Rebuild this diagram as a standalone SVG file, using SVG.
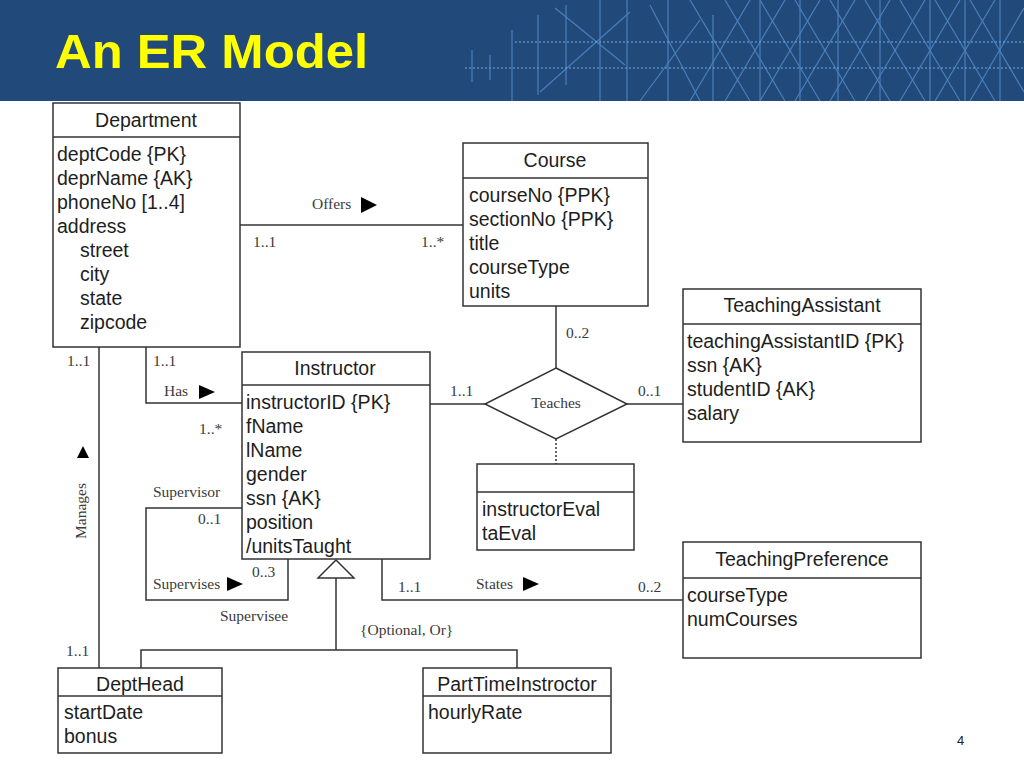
<svg xmlns="http://www.w3.org/2000/svg" width="1024" height="768" viewBox="0 0 1024 768">
<style>
.box{fill:#fff;stroke:#333;stroke-width:1.5}
.div{stroke:#333;stroke-width:1.5}
.t{font-family:"Liberation Sans",Arial,sans-serif;font-size:19.5px;fill:#1e1e1e}
.c{text-anchor:middle}
.l{font-family:"Liberation Serif","Times New Roman",serif;font-size:15.5px;fill:#3a3a3a}
.ln{stroke:#333;stroke-width:1.5;fill:none}
.hp{stroke:#5a98da;stroke-width:1.2;fill:none;opacity:0.7}
.hd{stroke:#6aa6e6;stroke-width:1.5;fill:none;opacity:0.7;stroke-dasharray:2 2}
.arr{fill:#000}
</style>
<rect x="0" y="0" width="1024" height="768" fill="#fff"/>
<g id="header">
<rect x="0" y="0" width="1024" height="101" fill="#21497a"/>
<g class="hp">
<line x1="472" y1="50" x2="472" y2="82"/>
<line x1="490" y1="55" x2="490" y2="80"/>
<line x1="512" y1="30" x2="512" y2="101"/>
<line x1="538" y1="15" x2="538" y2="95"/>
<line x1="566" y1="5" x2="566" y2="85"/>
<line x1="600" y1="0" x2="600" y2="101"/>
<line x1="627" y1="0" x2="627" y2="101"/>
<line x1="668" y1="0" x2="668" y2="101"/>
<line x1="713" y1="15" x2="713" y2="101"/>
<line x1="760" y1="0" x2="760" y2="101"/>
<line x1="800" y1="0" x2="800" y2="101"/>
<line x1="838" y1="0" x2="838" y2="101"/>
<line x1="880" y1="0" x2="880" y2="101"/>
<line x1="930" y1="0" x2="930" y2="101"/>
<line x1="965" y1="0" x2="965" y2="101"/>
<line x1="1000" y1="0" x2="1000" y2="101"/>
<line x1="555" y1="8" x2="625" y2="65"/>
<line x1="540" y1="92" x2="630" y2="12"/>
<line x1="650" y1="5" x2="700" y2="101"/>
<line x1="640" y1="101" x2="700" y2="20"/>
<line x1="690" y1="0" x2="750" y2="101"/>
<line x1="750" y1="0" x2="690" y2="101"/>
<line x1="725" y1="0" x2="785" y2="101"/>
<line x1="785" y1="0" x2="725" y2="101"/>
<line x1="760" y1="0" x2="820" y2="101"/>
<line x1="820" y1="0" x2="760" y2="101"/>
<line x1="795" y1="0" x2="855" y2="101"/>
<line x1="855" y1="0" x2="795" y2="101"/>
<line x1="830" y1="0" x2="890" y2="101"/>
<line x1="890" y1="0" x2="830" y2="101"/>
<line x1="865" y1="0" x2="925" y2="101"/>
<line x1="925" y1="0" x2="865" y2="101"/>
<line x1="900" y1="0" x2="960" y2="101"/>
<line x1="960" y1="0" x2="900" y2="101"/>
<line x1="935" y1="0" x2="995" y2="101"/>
<line x1="995" y1="0" x2="935" y2="101"/>
<line x1="970" y1="0" x2="1024" y2="92"/>
<line x1="1024" y1="8" x2="970" y2="101"/>
</g>
<line class="hd" x1="515" y1="42" x2="1024" y2="42"/>
<line class="hd" x1="465" y1="68" x2="1024" y2="68"/>
<text x="55" y="68" font-family="'Liberation Sans',Arial,sans-serif" font-size="49" font-weight="bold" fill="#ffff00" textLength="313" lengthAdjust="spacingAndGlyphs">An ER Model</text>
</g>
<g id="connectors">
<line class="ln" x1="240" y1="225" x2="463" y2="225"/>
<polyline class="ln" points="146,347 146,403 242,403"/>
<line class="ln" x1="99" y1="347" x2="99" y2="668"/>
<line class="ln" x1="556" y1="306" x2="556" y2="368"/>
<line class="ln" x1="430" y1="404" x2="485" y2="404"/>
<line class="ln" x1="627" y1="404" x2="683" y2="404"/>
<line class="ln" x1="556" y1="439" x2="556" y2="464" stroke-dasharray="2 2"/>
<polyline class="ln" points="242,508 146,508 146,600 288,600 288,559"/>
<polyline class="ln" points="382,559 382,600 683,600"/>
<line class="ln" x1="336" y1="578" x2="336" y2="650"/>
<polyline class="ln" points="141,668 141,650 517,650 517,668"/>
<polygon points="336,560 318,578 354,578" fill="#fff" stroke="#333" stroke-width="1.5"/>
<text class="l" x="312" y="209">Offers</text>
<polygon class="arr" points="361,197 377,205 361,213"/>
<text class="l" x="253" y="247">1..1</text>
<text class="l" x="421" y="247">1..*</text>
<text class="l" x="566" y="338">0..2</text>
<text class="l" x="450" y="396">1..1</text>
<text class="l" x="638" y="396">0..1</text>
<text class="l" x="153" y="366">1..1</text>
<text class="l" x="164" y="396">Has</text>
<polygon class="arr" points="199,385 215,392 199,399"/>
<text class="l" x="199" y="434">1..*</text>
<text class="l" x="67" y="366">1..1</text>
<text class="l" x="66" y="656">1..1</text>
<polygon class="arr" points="83,446 89,458 77,458"/>
<text class="l" x="0" y="0" text-anchor="middle" transform="translate(86,511) rotate(-90)">Manages</text>
<text class="l" x="153" y="497">Supervisor</text>
<text class="l" x="198" y="524">0..1</text>
<text class="l" x="252" y="577">0..3</text>
<text class="l" x="153" y="589">Supervises</text>
<polygon class="arr" points="227,577 243,584 227,591"/>
<text class="l" x="220" y="621">Supervisee</text>
<text class="l" x="360" y="635">{Optional, Or}</text>
<text class="l" x="398" y="592">1..1</text>
<text class="l" x="476" y="589">States</text>
<polygon class="arr" points="523,577 539,584 523,591"/>
<text class="l" x="638" y="592">0..2</text>
</g>
<g id="department">
<rect class="box" x="53" y="103" width="187" height="244"/>
<line class="div" x1="53" y1="137" x2="240" y2="137"/>
<text class="t c" x="146" y="127">Department</text>
<text class="t" x="57" y="161">deptCode {PK}</text>
<text class="t" x="57" y="185">deprName {AK}</text>
<text class="t" x="57" y="209">phoneNo [1..4]</text>
<text class="t" x="57" y="233">address</text>
<text class="t" x="80" y="257">street</text>
<text class="t" x="80" y="281">city</text>
<text class="t" x="80" y="305">state</text>
<text class="t" x="80" y="329">zipcode</text>
</g>
<g id="course">
<rect class="box" x="463" y="143" width="185" height="163"/>
<line class="div" x1="463" y1="178" x2="648" y2="178"/>
<text class="t c" x="555" y="167">Course</text>
<text class="t" x="469" y="202">courseNo {PPK}</text>
<text class="t" x="469" y="226">sectionNo {PPK}</text>
<text class="t" x="469" y="250">title</text>
<text class="t" x="469" y="274">courseType</text>
<text class="t" x="469" y="298">units</text>
</g>
<g id="teachingAssistant">
<rect class="box" x="683" y="289" width="238" height="153"/>
<line class="div" x1="683" y1="324" x2="921" y2="324"/>
<text class="t c" x="802" y="312">TeachingAssistant</text>
<text class="t" x="687" y="348">teachingAssistantID {PK}</text>
<text class="t" x="687" y="372">ssn {AK}</text>
<text class="t" x="687" y="396">studentID {AK}</text>
<text class="t" x="687" y="420">salary</text>
</g>
<g id="instructor">
<rect class="box" x="242" y="352" width="188" height="207"/>
<line class="div" x1="242" y1="385" x2="430" y2="385"/>
<text class="t c" x="335" y="375">Instructor</text>
<text class="t" x="246" y="409">instructorID {PK}</text>
<text class="t" x="246" y="433">fName</text>
<text class="t" x="246" y="457">lName</text>
<text class="t" x="246" y="481">gender</text>
<text class="t" x="246" y="505">ssn {AK}</text>
<text class="t" x="246" y="529">position</text>
<text class="t" x="246" y="553">/unitsTaught</text>
</g>
<g id="teaches">
<polygon points="556,368 627,404 556,439 485,404" fill="#fff" stroke="#333" stroke-width="1.5"/>
<text class="l c" x="556" y="408">Teaches</text>
</g>
<g id="teachesAttributes">
<rect class="box" x="477" y="464" width="157" height="86"/>
<line class="div" x1="477" y1="492" x2="634" y2="492"/>
<text class="t" x="482" y="516">instructorEval</text>
<text class="t" x="482" y="540">taEval</text>
</g>
<g id="teachingPreference">
<rect class="box" x="683" y="542" width="238" height="116"/>
<line class="div" x1="683" y1="578" x2="921" y2="578"/>
<text class="t c" x="802" y="566">TeachingPreference</text>
<text class="t" x="687" y="602">courseType</text>
<text class="t" x="687" y="626">numCourses</text>
</g>
<g id="deptHead">
<rect class="box" x="58" y="668" width="164" height="85"/>
<line class="div" x1="58" y1="696" x2="222" y2="696"/>
<text class="t c" x="140" y="691">DeptHead</text>
<text class="t" x="64" y="719">startDate</text>
<text class="t" x="64" y="743">bonus</text>
</g>
<g id="partTimeInstructor">
<rect class="box" x="423" y="668" width="188" height="85"/>
<line class="div" x1="423" y1="696" x2="611" y2="696"/>
<text class="t c" x="517" y="691">PartTimeInstroctor</text>
<text class="t" x="428" y="719">hourlyRate</text>
</g>
<text x="957" y="745" font-family="'Liberation Sans',Arial,sans-serif" font-size="13" fill="#222">4</text>
</svg>
